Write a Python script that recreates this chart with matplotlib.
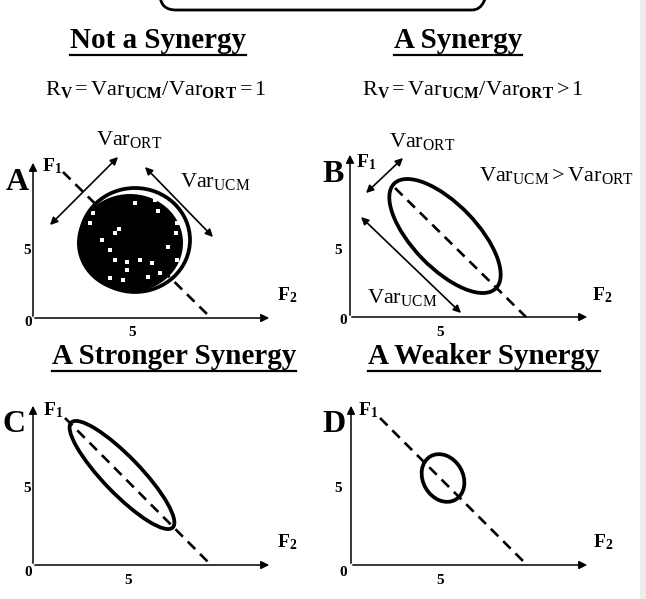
import matplotlib
matplotlib.use('Agg')
import matplotlib.pyplot as plt
from matplotlib.patches import Ellipse, FancyBboxPatch, Rectangle

plt.rcParams['font.family'] = ['Liberation Serif', 'DejaVu Serif']
plt.rcParams['mathtext.fontset'] = 'custom'
plt.rcParams['mathtext.rm'] = 'Liberation Serif'
plt.rcParams['mathtext.bf'] = 'Liberation Serif:bold'
plt.rcParams['mathtext.it'] = 'Liberation Serif:italic'

# ---------------- PANEL GEOMETRY (pixels, y measured UP from each panel origin) ----------------
PANELS = ['A', 'B', 'C', 'D']
TITLES = ['Not a Synergy', 'A Synergy', 'A Stronger Synergy', 'A Weaker Synergy']
TITLE_POS = [(158, 40), (458, 40), (174, 356), (484, 356)]
LETTER_POS = [(17, 183), (333, 174), (14, 425), (334, 425)]
ORIGIN_X = [33, 350, 33, 351]
ORIGIN_Y = [318, 317, 565, 565]
AXIS_LEN_X = [239, 240, 239, 239]
AXIS_LEN_Y = [158, 165, 162, 162]
UCM_START = [(30, 146), (45, 129), (32, 147), (29, 147)]
UCM_END = [(177, 1), (176, 0), (177, 1), (175, 1)]
ELL_CENTER = [(102, 78), (95, 81), (89, 90), (92, 87)]
ELL_W = [110, 146, 146, 50]
ELL_H = [104, 64, 37, 40]
ELL_ANGLE = [0, -46, -46, -60]
F1_POS = [(9, 152), (6, 155), (10, 155), (7, 155)]
F2_POS = [(244, 23), (242, 22), (244, 23), (242, 23)]
TICK_TEXT = '5'
XTICK_POS = [(99, -15), (90, -16), (95, -15), (89, -15)]
YTICK_POS = [(-6, 68), (-12, 67), (-6, 77), (-13, 77)]
ZERO_POS = [(-5, -4), (-7, -3), (-5, -7), (-8, -7)]

# panel A : filled cloud of trials
BLOB_CENTER = (97, 75)
BLOB_W, BLOB_H = 106, 98
SPECK_X = [135, 155, 158, 177, 176, 168, 177, 115, 119, 102, 110, 115, 127, 140, 152,
           127, 148, 160, 93, 90, 110, 123]
SPECK_Y = [203, 200, 211, 223, 233, 247, 260, 233, 229, 240, 250, 260, 262, 260, 263,
           270, 277, 273, 213, 223, 278, 280]

# double headed variance arrows (panel index, start, end) and their labels
VAR_ARROWS = [(0, (17, 93), (85, 161)), (0, (112, 151), (180, 81)),
              (1, (16, 124), (53, 159)), (1, (11, 100), (111, 4))]
VAR_LABELS = [((129, 140), 'ORT'), ((215, 181), 'UCM'), ((422, 142), 'ORT'), ((402, 297), 'UCM')]

FORMULA_POS = [(156, 90), (473, 90)]
FORMULA_TXT = [r'$\mathrm{R}_{\mathbf{V}} = \mathrm{Var}_{\mathbf{UCM}}/\mathrm{Var}_{\mathbf{ORT}} = 1$',
               r'$\mathrm{R}_{\mathbf{V}} = \mathrm{Var}_{\mathbf{UCM}}/\mathrm{Var}_{\mathbf{ORT}} > 1$']
COMPARE_POS = (556, 175)


def to_abs(i, dx, dy):
    return ORIGIN_X[i] + dx, ORIGIN_Y[i] - dy


fig = plt.figure(figsize=(6.46, 5.99), dpi=100)
ax = fig.add_axes([0, 0, 1, 1])
ax.set_xlim(0, 646)
ax.set_ylim(599, 0)
ax.axis('off')

# rounded box cut by the top edge
ax.add_patch(FancyBboxPatch((160, -40), 328, 50, boxstyle='round,pad=0,rounding_size=16',
                            fc='none', ec='black', lw=2.0))
ax.add_patch(Rectangle((640, 0), 6, 599, fc='#ececec', ec='none'))

title_texts = []
for i, name in enumerate(PANELS):
    ox, oy = ORIGIN_X[i], ORIGIN_Y[i]
    # axes with arrow heads
    ax.annotate('', xy=(ox + AXIS_LEN_X[i], oy), xytext=(ox - 1, oy),
                arrowprops=dict(arrowstyle='-|>', lw=1.1, color='black', mutation_scale=12))
    ax.annotate('', xy=(ox, oy - AXIS_LEN_Y[i]), xytext=(ox, oy + 1),
                arrowprops=dict(arrowstyle='-|>', lw=1.1, color='black', mutation_scale=12))
    # UCM line
    x0, y0 = to_abs(i, *UCM_START[i])
    x1, y1 = to_abs(i, *UCM_END[i])
    ax.plot([x0, x1], [y0, y1], color='black', lw=1.9, ls=(0, (4.0, 2.6)), zorder=2)
    if i == 0:
        bx, by = to_abs(i, *BLOB_CENTER)
        ax.add_patch(Ellipse((bx, by), BLOB_W, BLOB_H, fc='black', ec='none', zorder=3))
        ax.scatter(SPECK_X, SPECK_Y, s=5, marker='s', c='white', linewidths=0, zorder=4)
    cx, cy = to_abs(i, *ELL_CENTER[i])
    ax.add_patch(Ellipse((cx, cy), ELL_W[i], ELL_H[i], angle=-ELL_ANGLE[i],
                         fc='none', ec='black', lw=2.7, zorder=5))
    # labels
    ax.text(*LETTER_POS[i], name, fontsize=23, fontweight='bold', ha='center', va='center')
    ax.text(*to_abs(i, *F1_POS[i]), r'$\mathbf{F}_{\mathbf{1}}$', fontsize=14, ha='left', va='center')
    ax.text(*to_abs(i, *F2_POS[i]), r'$\mathbf{F}_{\mathbf{2}}$', fontsize=14, ha='left', va='center')
    ax.text(*to_abs(i, *XTICK_POS[i]), TICK_TEXT, fontsize=11, fontweight='bold', ha='center', va='center')
    ax.text(*to_abs(i, *YTICK_POS[i]), TICK_TEXT, fontsize=11, fontweight='bold', ha='center', va='center')
    ax.text(*to_abs(i, *ZERO_POS[i]), '0', fontsize=11, fontweight='bold', ha='center', va='center')
    t = ax.text(*TITLE_POS[i], TITLES[i], fontsize=21, fontweight='bold', ha='center', va='center')
    title_texts.append(t)

for i, p0, p1 in VAR_ARROWS:
    ax.annotate('', xy=to_abs(i, *p1), xytext=to_abs(i, *p0),
                arrowprops=dict(arrowstyle='<|-|>', lw=1.2, color='black', mutation_scale=11,
                                shrinkA=0, shrinkB=0), zorder=6)
for (x, y), sub in VAR_LABELS:
    ax.text(x, y, r'$\mathrm{Var}_{\mathrm{%s}}$' % sub, fontsize=16, ha='center', va='center')

for (x, y), txt in zip(FORMULA_POS, FORMULA_TXT):
    ax.text(x, y, txt, fontsize=16, ha='center', va='center')
ax.text(*COMPARE_POS, r'$\mathrm{Var}_{\mathrm{UCM}} > \mathrm{Var}_{\mathrm{ORT}}$',
        fontsize=16, ha='center', va='center')

# underline the titles
fig.canvas.draw()
inv = ax.transData.inverted()
for t in title_texts:
    bb = t.get_window_extent()
    (xa, ya), (xb, yb) = inv.transform([(bb.x0, bb.y0), (bb.x1, bb.y1)])
    ax.plot([xa, xb], [max(ya, yb) + 1, max(ya, yb) + 1], color='black', lw=1.6)

fig.savefig('out.png', dpi=100)
